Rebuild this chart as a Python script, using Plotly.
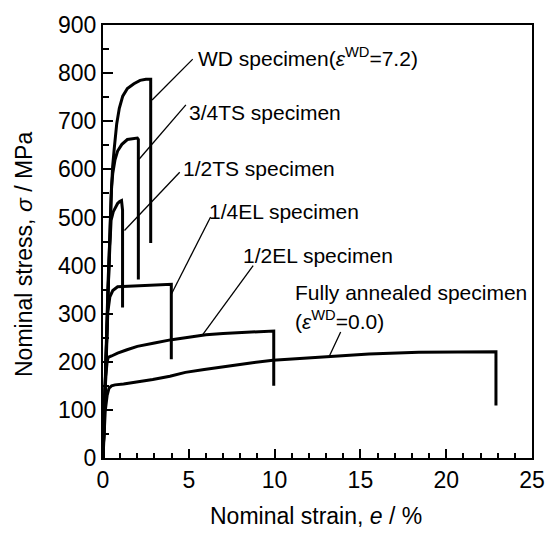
import plotly.graph_objects as go

# Nominal stress-strain curves (strain in %, stress in MPa); the last point of each
# series is the fracture drop.
wd_strain = [0, 0.1, 0.2, 0.3, 0.38, 0.47, 0.56, 0.66, 0.8, 0.95, 1.15, 1.42, 1.8, 2.16, 2.5, 2.78, 2.78]
wd_stress = [0, 130, 260, 370, 440, 540, 605, 645, 695, 727, 752, 768, 778, 785, 787, 787, 447]

ts34_strain = [0, 0.1, 0.2, 0.3, 0.4, 0.5, 0.57, 0.7, 0.85, 1.1, 1.42, 1.75, 2.0, 2.06, 2.06]
ts34_stress = [0, 130, 260, 370, 460, 565, 592, 620, 638, 652, 662, 664, 665, 662, 371]

ts12_strain = [0, 0.1, 0.2, 0.3, 0.4, 0.47, 0.6, 0.72, 0.85, 0.97, 1.08, 1.14, 1.14]
ts12_stress = [0, 130, 250, 350, 440, 494, 512, 522, 529, 533, 535, 515, 313]

el14_strain = [0, 0.1, 0.2, 0.28, 0.4, 0.57, 0.85, 1.5, 2.5, 3.5, 3.98, 3.98]
el14_stress = [0, 120, 230, 303, 335, 348, 356, 357, 359, 360, 361, 205]

el12_strain = [0, 0.08, 0.16, 0.24, 0.3, 0.5, 0.85, 1.4, 2.0, 3.0, 4.0, 5.0, 6.0, 7.0, 8.0, 9.0, 9.95, 9.95]
el12_stress = [0, 100, 170, 200, 209, 212, 218, 225, 232, 239, 246, 251, 256, 259, 261, 263, 264, 150]

fa_strain = [0, 0.06, 0.13, 0.24, 0.35, 0.5, 0.7, 1.2, 2.0, 2.9, 3.9, 4.8, 5.9, 7.0, 8.5, 9.9,
             11.5, 13.3, 15.5, 18.4, 20.5, 22.9, 22.9]
fa_stress = [0, 60, 98, 130, 145, 150, 152, 154, 158, 163, 170, 178, 184, 190, 197, 203,
             207, 211, 216, 220, 221, 221, 109]

curves = [
    (wd_strain, wd_stress),
    (ts34_strain, ts34_stress),
    (ts12_strain, ts12_stress),
    (el14_strain, el14_stress),
    (el12_strain, el12_stress),
    (fa_strain, fa_stress),
]

# Curve labels: text, text anchor (strain, stress), leader line (x0, y0, x1, y1)
labels = [
    ("WD specimen(<i>ε</i><sup>WD</sup>=7.2)", (5.4, 833), (2.86, 744, 5.23, 829)),
    ("3/4TS specimen", (4.9, 718), (2.10, 621, 4.83, 734)),
    ("1/2TS specimen", (4.55, 601), (1.25, 473, 4.47, 594)),
    ("1/4EL specimen", (6.05, 513), (3.99, 341, 6.27, 501)),
    ("1/2EL specimen", (8.05, 421), (5.8, 256, 8.75, 400)),
    ("Fully annealed specimen", (11.1, 345), None),
    ("(<i>ε</i><sup>WD</sup>=0.0)", (11.05, 287), (13.18, 211, 13.85, 262)),
]

FONT = "Liberation Sans, Arial, sans-serif"

fig = go.Figure()
for xs, ys in curves:
    fig.add_trace(go.Scatter(x=xs, y=ys, mode="lines",
                             line=dict(color="black", width=3), showlegend=False))

for text, (tx, ty), leader in labels:
    fig.add_annotation(x=tx, y=ty, xref="x", yref="y", text=text, showarrow=False,
                       xanchor="left", yanchor="middle",
                       font=dict(family=FONT, size=21, color="black"))
    if leader is not None:
        x0, y0, x1, y1 = leader
        fig.add_shape(type="line", x0=x0, y0=y0, x1=x1, y1=y1, xref="x", yref="y",
                      line=dict(color="black", width=1.3))

# Axis titles
fig.add_annotation(x=0.497, y=-0.134, xref="paper", yref="paper",
                   text="Nominal strain, <i>e</i> / %", showarrow=False,
                   xanchor="center", yanchor="middle",
                   font=dict(family=FONT, size=23, color="black"))
fig.add_annotation(x=-0.184, y=0.469, xref="paper", yref="paper",
                   text="Nominal stress, <i>σ</i> / MPa", showarrow=False, textangle=-90,
                   xanchor="center", yanchor="middle",
                   font=dict(family=FONT, size=23, color="black"))

axis_common = dict(showgrid=False, zeroline=False, showline=True, linecolor="black",
                   linewidth=2, mirror=True, ticks="inside", tickwidth=1.5,
                   tickcolor="black", tickfont=dict(family=FONT, size=23, color="black"))

fig.update_xaxes(range=[0, 25], tickmode="array", tickvals=[0, 5, 10, 15, 20, 25],
                 ticklen=9, minor=dict(dtick=1, ticks="inside", ticklen=5,
                                       tickwidth=1.5, tickcolor="black"),
                 **axis_common)
fig.update_yaxes(range=[0, 900], tickmode="array",
                 tickvals=[0, 100, 200, 300, 400, 500, 600, 700, 800, 900],
                 ticklen=10, minor=dict(dtick=50, ticks="inside", ticklen=6,
                                        tickwidth=1.5, tickcolor="black"),
                 **axis_common)

fig.update_layout(width=557, height=533, margin=dict(l=103, r=14, t=19, b=75),
                  paper_bgcolor="white", plot_bgcolor="white",
                  font=dict(family=FONT, color="black"))

fig.write_html("out.html")
